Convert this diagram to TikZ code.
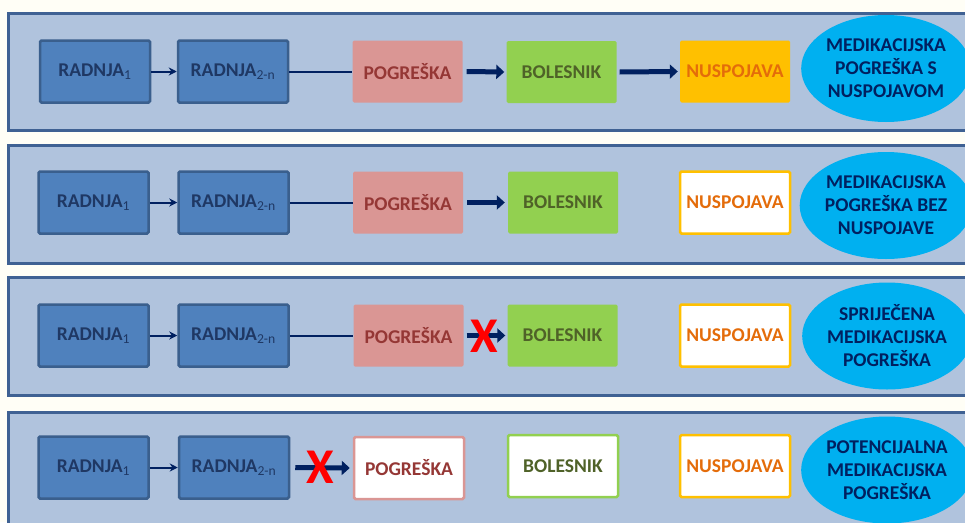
\documentclass[tikz,border=0pt]{standalone}
\usepackage{fontspec}
\setmainfont{Carlito}
\usetikzlibrary{arrows.meta,shapes.geometric}
\definecolor{bg}{HTML}{FFFEF6}
\definecolor{bandfill}{HTML}{B0C3DD}
\definecolor{bandline}{HTML}{3F6193}
\definecolor{bluefill}{HTML}{4F81BD}
\definecolor{blueline}{HTML}{3A5F8D}
\definecolor{bluetext}{HTML}{1F3864}
\definecolor{pinkfill}{HTML}{DA9694}
\definecolor{pinktext}{HTML}{953735}
\definecolor{greenfill}{HTML}{92D050}
\definecolor{greentext}{HTML}{4F6228}
\definecolor{orangefill}{HTML}{FFC000}
\definecolor{orangetext}{HTML}{E46C0A}
\definecolor{ellfill}{HTML}{00B0F0}
\definecolor{navy}{HTML}{002060}
\tikzset{
  band/.style={draw=bandline, fill=bandfill, line width=3pt},
  box/.style={minimum width=110pt, minimum height=62pt, inner sep=0pt, rounded corners=1.5pt,
    font=\bfseries\fontsize{19.5}{23}\selectfont},
  actbox/.style={box, fill=bluefill, draw=blueline, line width=2.5pt, text=bluetext},
  errbox/.style={box, fill=pinkfill, text=pinktext},
  errboxw/.style={box, fill=white, draw=pinkfill, line width=2.5pt, text=pinktext},
  patbox/.style={box, fill=greenfill, text=greentext},
  patboxw/.style={box, fill=white, draw=greenfill, line width=2.5pt, text=greentext},
  sidebox/.style={box, fill=orangefill, text=orangetext},
  sideboxw/.style={box, fill=white, draw=orangefill, line width=2.5pt, text=orangetext},
  outcome/.style={ellipse, fill=ellfill, minimum width=163pt, minimum height=107pt, inner sep=0pt,
    align=center, text=navy, font=\bfseries\fontsize{19.5}{23}\selectfont},
  thin/.style={navy, line width=2pt},
  thinarrow/.style={thin, -{Stealth[length=8pt,width=8pt]}},
  thickarrow/.style={navy, line width=5pt, -{Triangle[length=8pt,width=14pt]}},
  crossmark/.style={text=red, inner sep=0pt, font=\bfseries\fontsize{50}{50}\selectfont}
}
\newcommand{\rone}{RADNJA\textsubscript{\mdseries 1}}
\newcommand{\rtwo}{RADNJA\textsubscript{\mdseries 2-n}}
\begin{document}
\begin{tikzpicture}[x=1pt,y=-1pt]
\useasboundingbox[fill=bg] (0,0) rectangle (965,522);
\clip (0,0) rectangle (965,522);
% bands
\draw[band] (8,13) rectangle (990,130);
\draw[band] (8,145) rectangle (990,263);
\draw[band] (8,277) rectangle (990,395);
\draw[band] (8,412) rectangle (990,545);
% row 1
\node[actbox] (a1) at (95,71.5) {\rone};
\node[actbox] (b1) at (233,71.5) {\rtwo};
\node[errbox] (c1) at (407.5,71.5) {POGREŠKA};
\node[patbox] (d1) at (561.5,72) {BOLESNIK};
\node[sidebox] (e1) at (735,71.5) {NUSPOJAVA};
\node[outcome] (f1) at (886,68.5) {MEDIKACIJSKA\\POGREŠKA S\\NUSPOJAVOM};
\draw[thinarrow] (a1.east) -- (b1.west);
\draw[thin] (b1.east) -- (c1.west);
\draw[thickarrow] ([xshift=4pt]c1.east) -- ([xshift=-2pt]d1.west);
\draw[thickarrow] ([xshift=3pt]d1.east) -- ([xshift=-2pt]e1.west);
% row 2
\node[actbox] (a2) at (93.5,202.5) {\rone};
\node[actbox] (b2) at (233.5,202.5) {\rtwo};
\node[errbox] (c2) at (408,202.5) {POGREŠKA};
\node[patbox] (d2) at (563,202.5) {BOLESNIK};
\node[sideboxw] (e2) at (735,202.5) {NUSPOJAVA};
\node[outcome] (f2) at (886,205.5) {MEDIKACIJSKA\\POGREŠKA BEZ\\NUSPOJAVE};
\draw[thinarrow] (a2.east) -- (b2.west);
\draw[thin] (b2.east) -- (c2.west);
\draw[thickarrow] ([xshift=4pt]c2.east) -- ([xshift=-3pt]d2.west);
% row 3
\node[actbox] (a3) at (93.5,335.5) {\rone};
\node[actbox] (b3) at (233.5,335.5) {\rtwo};
\node[errbox] (c3) at (408.5,335.5) {POGREŠKA};
\node[patbox] (d3) at (562.5,335.5) {BOLESNIK};
\node[sideboxw] (e3) at (735,335.5) {NUSPOJAVA};
\node[outcome] (f3) at (887,336) {SPRIJEČENA\\MEDIKACIJSKA\\POGREŠKA};
\draw[thinarrow] (a3.east) -- (b3.west);
\draw[thin] (b3.east) -- (c3.west);
\draw[thickarrow] ([xshift=3pt]c3.east) -- ([xshift=-2pt]d3.west);
\node[crossmark] (x3) at (484,336) {X};
% row 4
\node[actbox] (a4) at (93.5,467.5) {\rone};
\node[actbox] (b4) at (234,467.5) {\rtwo};
\node[errboxw] (c4) at (409,468) {POGREŠKA};
\node[patboxw] (d4) at (563,466) {BOLESNIK};
\node[sideboxw] (e4) at (735,466) {NUSPOJAVA};
\node[outcome] (f4) at (887,470) {POTENCIJALNA\\MEDIKACIJSKA\\POGREŠKA};
\draw[thinarrow] (a4.east) -- (b4.west);
\draw[thickarrow] ([xshift=5pt]b4.east) -- ([xshift=-3pt]c4.west);
\node[crossmark] (x4) at (320,467) {X};
\end{tikzpicture}
\end{document}
